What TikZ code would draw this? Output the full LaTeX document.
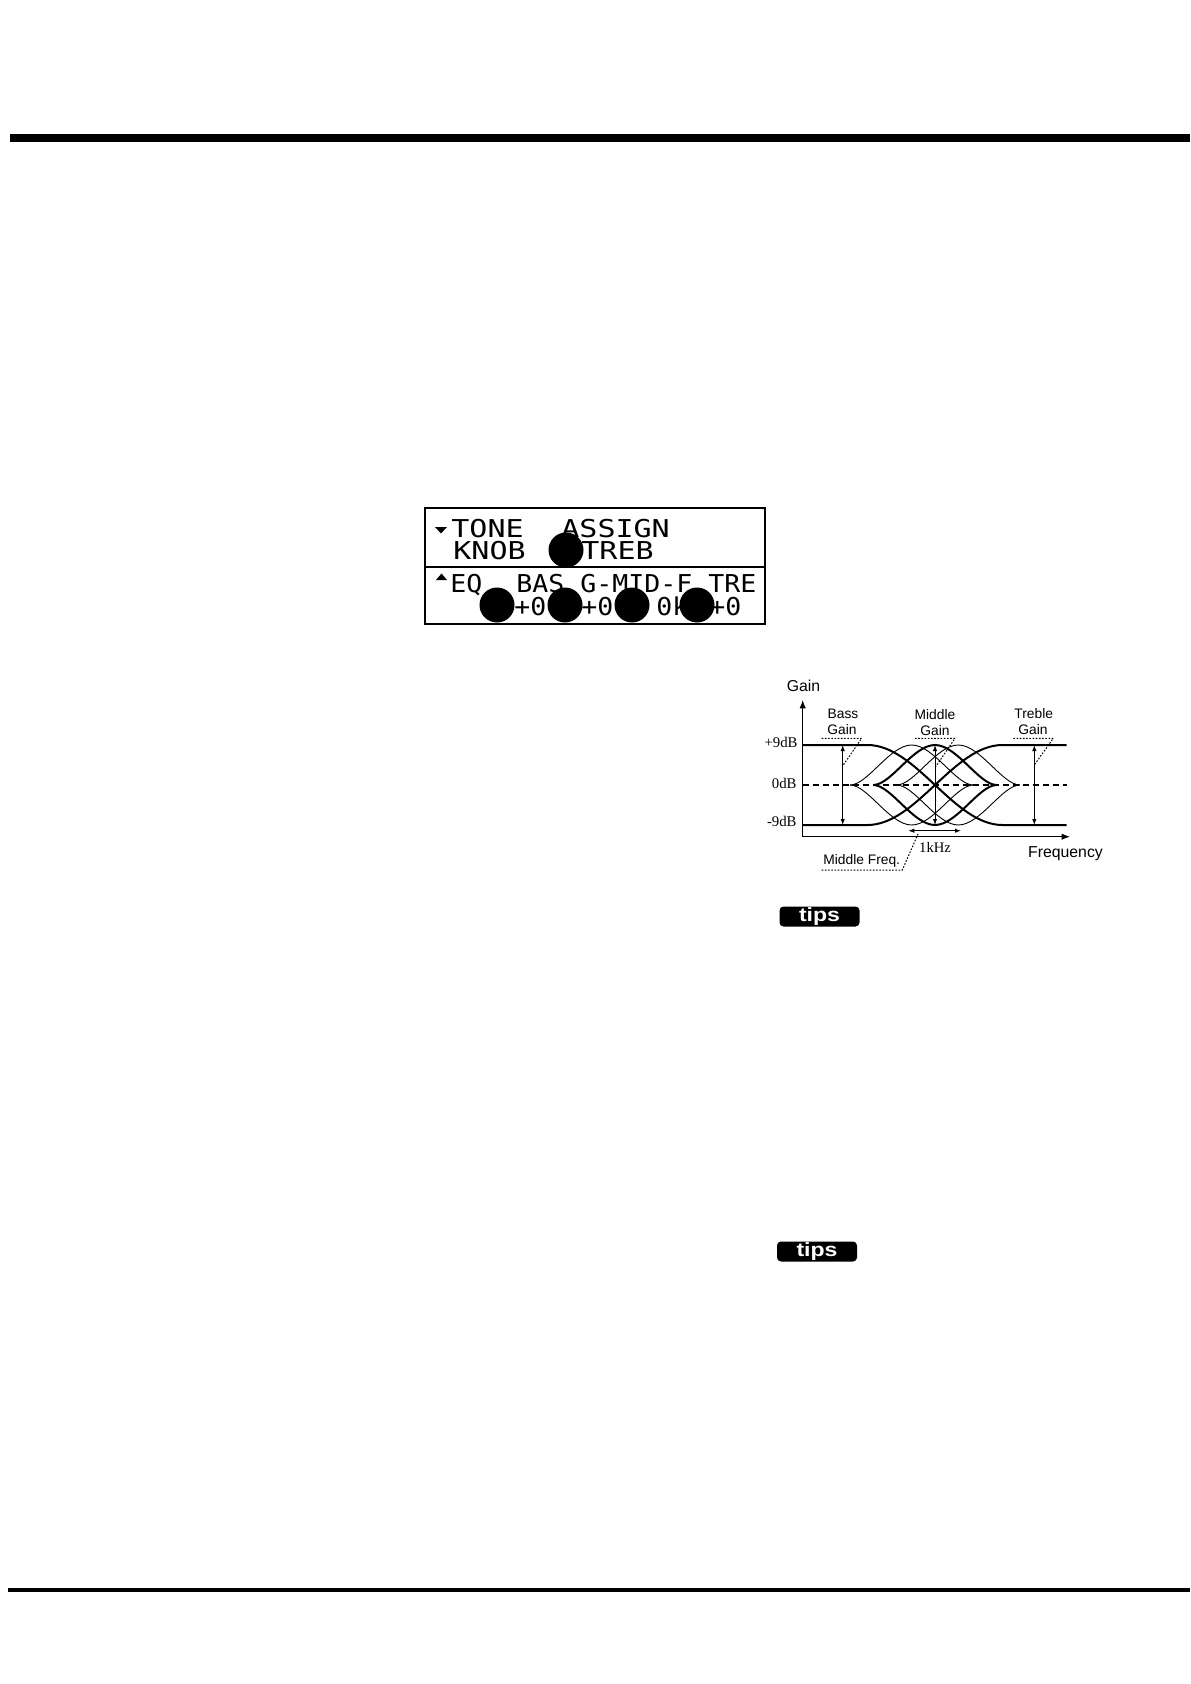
\documentclass[tikz,border=0pt]{standalone}
\usepackage{fontspec}
\usepackage{graphicx}
\setmainfont{Liberation Serif}
\newfontfamily\lcdfont{DejaVu Sans Mono}
\newfontfamily\arialfont{Liberation Sans}
\usetikzlibrary{arrows.meta}
\newcommand{\lcdw}[1]{\scalebox{1.22}[1]{#1}}
\newcommand{\lcdn}[1]{\scalebox{1.08}[1]{#1}}
\newcommand{\eqbell}[3]{%
  \draw[#3] ({#1-61.7},785) .. controls ({#1-44},785) and ({#1-22},#2) .. (#1,#2)
    .. controls ({#1+22},#2) and ({#1+44},785) .. ({#1+61.7},785);}
\begin{document}
\begin{tikzpicture}[x=0.5pt,y=-0.5pt,
  lcdtext/.style={anchor=base west,inner sep=0pt,font=\lcdfont\fontsize{12.3}{12.3}\selectfont},
  thickc/.style={line width=1pt},
  thinc/.style={line width=0.45pt},
  dotline/.style={line width=0.5pt,dash pattern=on 0.8pt off 0.8pt},
  varrow/.style={line width=0.5pt,{Latex[length=3pt,width=2.2pt]}-{Latex[length=3pt,width=2.2pt]}},
  axis/.style={line width=0.5pt,-{Latex[length=4.2pt,width=3.2pt]}},
  sanslab/.style={inner sep=0pt,font=\arialfont\fontsize{6.9}{6.9}\selectfont},
  biglab/.style={inner sep=0pt,font=\arialfont\fontsize{7.9}{7.9}\selectfont},
  dblab/.style={inner sep=0pt,anchor=east,font=\fontsize{7.4}{7.4}\selectfont},
  tipsbox/.style={fill=black,rounded corners=2pt,minimum width=40pt,minimum height=10pt,inner sep=0pt,
     text=white,font=\arialfont\bfseries\fontsize{9.6}{9.6}\selectfont}
]
\useasboundingbox (0,0) rectangle (1190,1684);
\fill[white] (0,0) rectangle (1190,1684);

% page rules
\fill[black] (10,134) rectangle (1190,142);
\fill[black] (8,1588) rectangle (1190,1591.5);

% LCD panel
\draw[line width=1pt] (425,508) rectangle (765,624);
\draw[line width=1pt] (425,567) -- (765,567);
\fill (435,527) -- (447,527) -- (441,533.5) -- cycle;
\fill (436,580) -- (447,580) -- (441.5,573.5) -- cycle;
\node[lcdtext] (tone) at (451,537) {\lcdw{TONE}};
\node[lcdtext] (assign) at (561,537) {\lcdw{ASSIGN}};
\node[lcdtext] (knob) at (453,559) {\lcdw{KNOB}};
\node[lcdtext] (treb) at (581,559) {\lcdw{TREB}};
\node[lcdtext] (eq) at (450,592) {\lcdn{EQ}};
\node[lcdtext] (bas) at (516,592) {\lcdn{BAS}};
\node[lcdtext] (gmidf) at (580,592) {\lcdn{G-MID-F}};
\node[lcdtext] (tre) at (708,592) {\lcdn{TRE}};
\node[lcdtext] (v1) at (514,615) {\lcdn{+0}};
\node[lcdtext] (v2) at (581,615) {\lcdn{+0}};
\node[lcdtext] (v3) at (656,615) {\lcdn{0k}};
\node[lcdtext] (v4) at (709,615) {\lcdn{+0}};
\fill (566,550) circle[radius=17.5];
\fill (497,605) circle[radius=17.5];
\fill (565,605) circle[radius=17.5];
\fill (632,605) circle[radius=17.5];
\fill (697,605) circle[radius=17.5];

% EQ graph
\coordinate (org) at (802.7,836.7);
\coordinate (ytop) at (802.7,700);
\coordinate (xend) at (1070,836.7);
\draw[axis] (org) -- (ytop);
\draw[axis] (org) -- (xend);
\node[biglab] (gainax) at (803.5,686) {Gain};
\node[biglab] (freq) at (1065.5,853.5) {Frequency};

\draw[line width=1pt,dash pattern=on 3pt off 2pt] (802.7,785) -- (1066.7,785);

\draw[thickc] (802.7,745) -- (867.5,745) .. controls (916.5,745) and (953.5,825) .. (1002.5,825) -- (1066.7,825);
\draw[thickc] (802.7,825) -- (867.5,825) .. controls (916.5,825) and (953.5,745) .. (1002.5,745) -- (1066.7,745);
\eqbell{935}{745}{thickc}
\eqbell{935}{825}{thickc}
\eqbell{911.7}{745}{thinc}
\eqbell{911.7}{825}{thinc}
\eqbell{958.3}{745}{thinc}
\eqbell{958.3}{825}{thinc}

\node[dblab] (p9) at (798,742.5) {+9dB};
\node[dblab] (z0) at (797,783.5) {0dB};
\node[dblab] (m9) at (797,821.5) {-9dB};

% gain arrows
\draw[varrow] (842.7,745) -- (842.7,825);
\draw[varrow] (935,745) -- (935,825);
\draw[varrow] (1034.3,745) -- (1034.3,825);
\draw[varrow] (908.3,830.7) -- (961,830.7);

\node[sanslab] (bass1) at (843,714) {Bass};
\node[sanslab] (bass2) at (842,730) {Gain};
\node[sanslab] (mid1) at (935,714.5) {Middle};
\node[sanslab] (mid2) at (935,730.5) {Gain};
\node[sanslab] (tre1) at (1033.7,714) {Treble};
\node[sanslab] (tre2) at (1033,730) {Gain};
\draw[dotline] (821.7,738.3) -- (861.7,738.3) -- (843.3,765);
\draw[dotline] (915,738.3) -- (955,738.3) -- (935.7,766.7);
\draw[dotline] (1013.3,738.3) -- (1053.3,738.3) -- (1034.3,765);

\node[inner sep=0pt,font=\fontsize{7.3}{7.3}\selectfont] (khz) at (935,847) {1kHz};
\node[sanslab] (mfreq) at (861.7,860.7) {Middle Freq.};
\draw[dotline] (821.7,870) -- (902.3,870) -- (918.3,833.3);

% tips labels
\node[tipsbox] (tips1) at (819.5,916.5) {\scalebox{1.2}[1]{tips}};
\node[tipsbox] (tips2) at (817,1251.5) {\scalebox{1.2}[1]{tips}};
\end{tikzpicture}
\end{document}
